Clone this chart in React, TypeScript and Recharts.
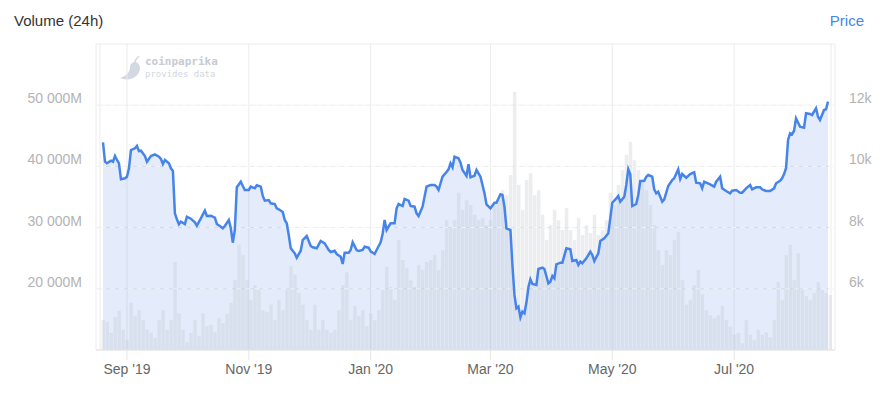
import { ComposedChart, Area, Bar, Line, XAxis, YAxis, CartesianGrid, ReferenceLine } from 'recharts';

const FONT = '"Liberation Sans", Arial, Helvetica, sans-serif';

// day numbers count from 2019-08-20 (first point of the series)
const priceDays = [
    0, 1, 2, 4, 5, 6, 7, 8, 9, 11, 12, 13, 14, 16, 17, 18, 19, 21, 22, 24, 26, 28, 29, 30, 31, 33, 34, 35, 36, 37, 38, 39,
    41, 42, 44, 46, 47, 49, 51, 52, 54, 56, 57, 59, 60, 61, 63, 64, 65, 66, 67, 69, 70, 71, 73, 74, 76, 77, 79, 80, 81, 83,
    84, 86, 87, 88, 90, 91, 92, 93, 94, 96, 97, 99, 100, 102, 104, 105, 107, 109, 111, 113, 114, 116, 117, 119, 120, 121,
    123, 124, 125, 127, 128, 130, 131, 133, 134, 136, 137, 139, 140, 141, 142, 144, 146, 147, 148, 150, 151, 153, 154, 156,
    157, 158, 160, 162, 164, 166, 167, 168, 170, 172, 173, 174, 175, 176, 178, 179, 180, 182, 183, 184, 186, 187, 189, 191,
    192, 194, 196, 197, 199, 200, 201, 202, 204, 205, 206, 207, 208, 209, 210, 211, 212, 213, 214, 215, 217, 218, 220, 221,
    223, 224, 225, 226, 227, 229, 230, 232, 234, 235, 237, 238, 239, 240, 242, 244, 245, 246, 248, 249, 251, 253, 255, 257,
    258, 259, 261, 262, 263, 264, 265, 267, 268, 269, 271, 272, 273, 275, 276, 277, 278, 280, 281, 283, 285, 286, 288, 289,
    290, 292, 294, 296, 297, 299, 300, 301, 304, 306, 307, 309, 310, 312, 314, 315, 317, 319, 320, 322, 324, 325, 327, 329,
    330, 332, 334, 336, 337, 339, 340, 341, 342, 343, 344, 345, 346, 347, 349, 351, 352, 354, 355, 357, 358, 359, 360, 361,
    362, 363,
];
const priceUsd = [
    10788, 10154, 10101, 10187, 10154, 10340, 10209, 10101, 9578, 9611, 9663, 9938, 10536, 10591, 10667, 10503, 10513,
    10340, 10154, 10340, 10395, 10317, 10242, 10078, 10209, 10101, 9938, 9850, 8467, 8271, 8107, 8193,
    8118, 8356, 8291, 8173, 8062, 8304, 8553, 8379, 8389, 8324, 8118, 8030, 7977, 8052, 8248, 7977, 7507, 7922, 9317, 9500,
    9360, 9229, 9229, 9338, 9284, 9382, 9338, 9033, 8880, 8902,
    8794, 8771, 8631, 8598, 8510, 8248, 8140, 7758, 7323, 7160, 7016, 7245, 7595, 7725, 7399, 7356, 7323, 7562, 7487, 7268,
    7203, 7245, 7137, 7050, 6811, 7180,
    7180, 7268, 7519, 7268, 7235, 7268, 7376, 7343, 7225, 7137, 7268, 7519, 7791, 8248, 7922, 8140, 8140, 8631, 8771, 8706,
    8934, 8880, 8706, 8683,
    8467, 8379, 8683, 9338, 9392, 9392, 9338, 9229, 9663, 9817, 9905, 10101, 9970, 10317, 10265, 10121, 9882, 9686, 10070,
    9644, 9696, 9882, 9663, 9121,
    8761, 8631, 8814, 8814, 9088, 9066, 8683, 7977, 7922, 6770, 5800, 5363, 5417, 5068, 5254, 5199, 5550, 6050, 6310, 6157,
    6124, 6647, 6690, 6647,
    6179, 6233, 6418, 6343, 6801, 6853, 6853, 7323, 7291, 6908, 6941, 6778, 6886, 6833, 6997, 7213, 7105, 6908, 7160, 7562,
    7650, 7813, 8814, 8957,
    9033, 8847, 9010, 9392, 9905, 9742, 8706, 8771, 9066, 9523, 9533, 9663, 9719, 9663, 9250, 9121, 9173, 8847, 8925, 9360,
    9556, 9611, 9905, 9588,
    9752, 9631, 9752, 9807, 9468, 9448, 9284, 9500, 9415, 9338, 9500, 9663, 9284, 9196, 9121, 9206, 9229, 9141, 9141, 9284,
    9392, 9251, 9317, 9317,
    9251, 9196, 9196, 9284, 9448, 9533, 9611, 9750, 9950, 10863, 11082, 11049, 11166, 11572, 11297, 11265, 11735, 11713,
    11680, 11899, 11625, 11516, 11680, 11843,
    11866, 12115,
];

// 24h volume in millions, one value every 2 days from 2019-08-20
const volumeStepDays = 2;
const volumeM = [
    14900, 14600, 12800, 15400, 16400, 13300, 11600, 17700, 15600, 16500,
    14900, 13300, 12800, 12000, 14900, 16500, 13300, 14900, 24400, 16000,
    13300, 11300, 12800, 14900, 12300, 16000, 13900, 14100, 12900, 15200,
    14400, 15900, 17700, 21400, 27200, 25500, 21400, 18200, 20600, 19800,
    16500, 16200, 17400, 14900, 18200, 16500, 19800, 23700, 22300, 19300,
    17400, 14900, 13300, 17400, 13300, 14900, 13300, 12800, 13300, 16500,
    20600, 22700, 14900, 17200, 15600, 16500, 13900, 16000, 14900, 16500,
    19800, 23600, 20300, 18200, 28000, 24700, 23400, 21400, 20300, 23900,
    23100, 24400, 24700, 25500, 23100, 26300, 31200, 29900, 31200, 35700,
    32900, 34500, 33700, 32100, 31200, 31600, 30400, 31200, 33700, 34500,
    36100, 35300, 38600, 52200, 37000, 32900, 37800, 38900, 35300, 36100,
    32100, 28000, 30400, 32900, 31200, 29600, 33200, 29600, 28000, 31600,
    28800, 30400, 29100, 32100, 28800, 29600, 31200, 35700, 33700, 37000,
    39400, 41900, 44000, 41000, 39400, 37800, 36100, 33700, 30400, 26300,
    23900, 26300, 25500, 28000, 29300, 21400, 17400, 18200, 20600, 23100,
    19100, 16500, 15700, 15200, 15700, 17200, 14900, 13800, 12500, 12800,
    11100, 14900, 12500, 11600, 13300, 12500, 12900, 12100, 14900, 21100,
    18200, 25500, 27200, 21400, 25800, 19800, 18800, 18200, 19300, 21100,
    19800, 19300, 19000,
];

const monthTickDays = [12, 73, 134, 194, 255, 316];
const monthTickLabels = ["Sep '19", "Nov '19", "Jan '20", "Mar '20", "May '20", "Jul '20"];
const rangeEdgeDays = [-1.5, 364.5];

const volumeTicks = [20000, 30000, 40000, 50000];
const priceTicks = [4000, 6000, 8000, 10000, 12000, 14000];
const priceLabelTicks = [6000, 8000, 10000, 12000];

const BLUE = '#4684ea';

const lastDay = Math.max(priceDays[priceDays.length - 1], (volumeM.length - 1) * volumeStepDays);
const rows: { day: number; price: number | null; volume: number | null }[] = [];
for (let d = 0; d <= lastDay; d++) rows.push({ day: d, price: null, volume: null });
priceDays.forEach((d, i) => {
    rows[d].price = priceUsd[i];
});
volumeM.forEach((v, i) => {
    rows[i * volumeStepDays].volume = v;
});

function MonthTick(props: any) {
    const { x, y, payload } = props;
    const idx = monthTickDays.indexOf(payload.value);
    if (idx < 0) return <g />;
    return (
        <g>
            <line x1={x} y1={y} x2={x} y2={y + 10} stroke="#e6e6e6" />
            <text x={x} y={y + 24} textAnchor="middle" fill="#666" fontSize={14} fontFamily={FONT}>
                {monthTickLabels[idx]}
            </text>
        </g>
    );
}

function VolumeTick(props: any) {
    const { x, y, payload } = props;
    return (
        <text x={x - 14} y={y - 2} textAnchor="end" fill="#b3b3b3" fontSize={14} fontFamily={FONT}>
            {`${payload.value / 1000} 000M`}
        </text>
    );
}

function PriceTick(props: any) {
    const { x, y, payload } = props;
    if (!priceLabelTicks.includes(payload.value)) return <g />;
    return (
        <text x={x + 14} y={y - 2} textAnchor="start" fill="#b3b3b3" fontSize={14} fontFamily={FONT}>
            {`${payload.value / 1000}k`}
        </text>
    );
}

// volume column: the band is one day wide, a column spans its 2-day step
function VolumeColumn(props: any) {
    const { x, y, width, height } = props;
    if (!height || height <= 0) return <g />;
    const w = 3.5;
    return <rect x={x + width / 2 - w / 2} y={y} width={w} height={height} fill="#c4c7cc" fillOpacity={0.32} />;
}

export default function App() {
    return (
        <div style={{ position: 'fixed', left: 0, top: 0, width: 887, height: 393, background: '#fff' }}>
            <svg width={887} height={393} style={{ position: 'absolute', left: 0, top: 0 }}>
                <text x={14} y={26} fill="#333" fontSize={15} fontFamily={FONT}>
                    Volume (24h)
                </text>
                <text x={864} y={26} textAnchor="end" fill={BLUE} fontSize={15} fontFamily={FONT}>
                    Price
                </text>
                {/* coinpaprika watermark */}
                <path
                    d="M136 62 C141 64 142 72 135 77 C131 80 125 80 120 78 C126 76 130 72 130 67 C130 64 132 62 136 62 Z"
                    fill="#d3d8e1"
                />
                <path d="M135 62 C135 60 137 58 139 56" stroke="#d3d8e1" strokeWidth={1.6} fill="none" />
                <text x={145} y={65} fill="#c6cbd4" fontSize={11} fontWeight="bold" fontFamily='"DejaVu Sans Mono", monospace'>
                    coinpaprika
                </text>
                <text x={145} y={77} fill="#d3d7de" fontSize={9} fontFamily='"DejaVu Sans Mono", monospace'>
                    provides data
                </text>
            </svg>
            <div style={{ position: 'absolute', left: 0, top: 0 }}>
                <ComposedChart width={887} height={393} data={rows} margin={{ top: 44, right: 0, bottom: 0, left: 0 }}>
                    <CartesianGrid yAxisId="price" stroke="#ececec" />
                    <XAxis
                        dataKey="day"
                        type="number"
                        domain={[-3.5, 366.5]}
                        ticks={[rangeEdgeDays[0], ...monthTickDays, rangeEdgeDays[1]]}
                        interval={0}
                        height={43}
                        tickSize={0}
                        tickMargin={0}
                        tickLine={false}
                        axisLine={{ stroke: '#e6e6e6' }}
                        tick={<MonthTick />}
                    />
                    <YAxis
                        yAxisId="volume"
                        orientation="left"
                        width={96}
                        domain={[10000, 60000]}
                        ticks={volumeTicks}
                        interval={0}
                        axisLine={false}
                        tickLine={false}
                        tickSize={0}
                        tickMargin={0}
                        tick={<VolumeTick />}
                    />
                    <YAxis
                        yAxisId="price"
                        orientation="right"
                        width={52}
                        domain={[4000, 14000]}
                        ticks={priceTicks}
                        interval={0}
                        axisLine={false}
                        tickLine={false}
                        tickSize={0}
                        tickMargin={0}
                        tick={<PriceTick />}
                    />
                    <Area
                        yAxisId="price"
                        type="linear"
                        dataKey="price"
                        stroke="none"
                        fill="#4a7fe8"
                        fillOpacity={0.15}
                        connectNulls
                        dot={false}
                        activeDot={false}
                        isAnimationActive={false}
                    />
                    <Bar
                        yAxisId="volume"
                        dataKey="volume"
                        shape={<VolumeColumn />}
                        isAnimationActive={false}
                    />
                    {priceLabelTicks.map((v) => (
                        <ReferenceLine
                            key={v}
                            yAxisId="price"
                            y={v}
                            stroke="#ffffff"
                            strokeOpacity={0.7}
                            strokeDasharray="5 4"
                        />
                    ))}
                    <Line
                        yAxisId="price"
                        type="linear"
                        dataKey="price"
                        stroke={BLUE}
                        strokeWidth={2.5}
                        connectNulls
                        dot={false}
                        activeDot={false}
                        isAnimationActive={false}
                    />
                </ComposedChart>
            </div>
        </div>
    );
}
